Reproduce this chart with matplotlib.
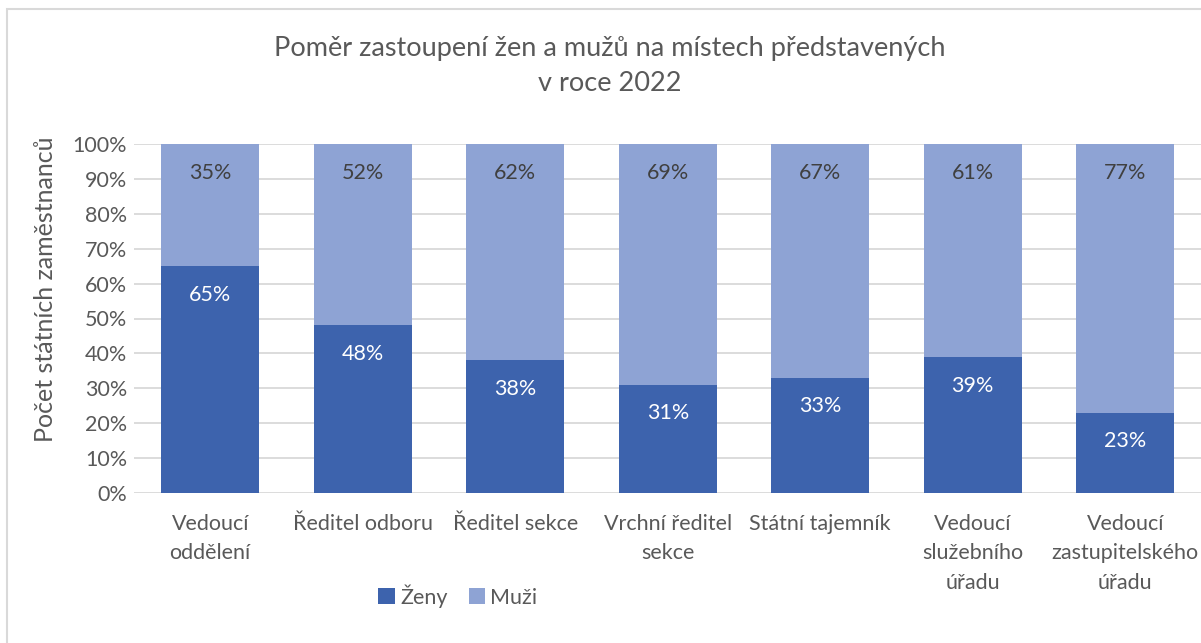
import matplotlib.pyplot as plt
from matplotlib.patches import Rectangle

categories = ["Vedoucí\noddělení", "Ředitel odboru", "Ředitel sekce",
              "Vrchní ředitel\nsekce", "Státní tajemník",
              "Vedoucí\nslužebního\núřadu", "Vedoucí\nzastupitelského\núřadu"]
zeny = [65, 48, 38, 31, 33, 39, 23]
muzi = [35, 52, 62, 69, 67, 61, 77]
yticks = [0, 10, 20, 30, 40, 50, 60, 70, 80, 90, 100]

c_zeny = "#3d63ad"
c_muzi = "#8ea3d4"
txt = "#595959"

plt.rcParams['font.family'] = ['Lato', 'DejaVu Sans']

fig = plt.figure(figsize=(12.01, 6.43), dpi=100)
# chart frame, cut off at the right and bottom edge
fig.patches.append(Rectangle((7 / 1201, -0.1), 1.5, 1.1 - 9 / 643,
                             transform=fig.transFigure, fill=False,
                             edgecolor="#d9d9d9", linewidth=1.5))
ax = fig.add_axes([134 / 1201, 150 / 643, 1067.5 / 1201, 349 / 643])

x = range(len(categories))
b1 = ax.bar(x, zeny, width=0.64, color=c_zeny, label="Ženy", zorder=3)
b2 = ax.bar(x, muzi, width=0.64, bottom=zeny, color=c_muzi, label="Muži", zorder=3)

for i in x:
    ax.text(i, zeny[i] - 8.2, f"{zeny[i]}%", ha="center", va="center",
            color="white", fontsize=15.5, zorder=4)
    ax.text(i, 100 - 8.2, f"{muzi[i]}%", ha="center", va="center",
            color="#404040", fontsize=15.5, zorder=4)

ax.set_xlim(-0.5, len(categories) - 0.5)
ax.set_ylim(0, 100)
ax.set_yticks(yticks)
ax.set_yticklabels([f"{t}%" for t in yticks])
ax.set_xticks(list(x))
ax.set_xticklabels(categories, linespacing=1.6, va="top")
ax.tick_params(axis="both", length=0, labelsize=15.5, labelcolor=txt)
ax.tick_params(axis="x", pad=15)
ax.tick_params(axis="y", pad=5)
ax.grid(axis="y", color="#d9d9d9", linewidth=1.3, zorder=0)
for s in ax.spines.values():
    s.set_visible(False)

fig.text(46 / 1201, 1 - 289 / 643, "Počet státních zaměstnanců", rotation=90,
         ha="center", va="center", fontsize=18, color=txt)
fig.text(0.508, 1 - 66 / 643, "Poměr zastoupení žen a mužů na místech představených\nv roce 2022",
         ha="center", va="center", fontsize=19.5, color=txt, linespacing=1.5)

fig.legend(handles=[b1, b2], loc="center", bbox_to_anchor=(458 / 1201, 1 - 596 / 643),
           ncol=2, frameon=False, fontsize=15.5, labelcolor=txt,
           handlelength=0.75, handleheight=0.75, handletextpad=0.25, columnspacing=1.0)

fig.savefig("out.png", dpi=100)
